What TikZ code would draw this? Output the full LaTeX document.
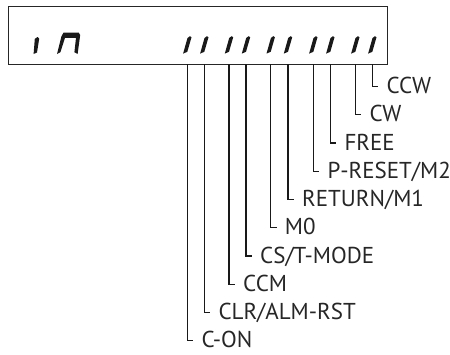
\documentclass[tikz,border=0pt]{standalone}
\usepackage{fontspec}
\setmainfont{PT Sans}
\begin{document}
\begin{tikzpicture}[x=1pt,y=-1pt,
  frame/.style={draw=black!85,line width=1.2pt},
  lead/.style={draw=black!90,line width=1.1pt},
  seg/.style={fill=black!90,draw=none},
  lbl/.style={anchor=base west,inner sep=0pt,text=black!85,font=\fontsize{23}{27}\selectfont}]
\useasboundingbox (0,0) rectangle (450,354);
% display frame
\node[frame,draw,minimum width=379pt,minimum height=58.5pt,inner sep=0pt,anchor=north west] (disp) at (8,5.5) {};
% "in"
\fill[seg] (33.6,54) -- (37.0,52.5) -- (39.2,38.6) -- (37.6,37.0) -- (34.8,38.8) -- cycle;
\fill[seg] (57.0,54) -- (61.4,36.4) -- (63.6,32.5) -- (78.6,32.5) -- (80.2,35) -- (77.6,54) -- (74.4,52.2) -- (76.0,37.8) -- (65.0,37.8) -- (60.4,52.2) -- cycle;
% segment pairs and leads
\foreach \x/\k/\t [count=\i] in {
  187.3/9/C-ON, 204.3/8/CLR{/}ALM-RST, 229/7/CCM, 246/6/CS{/}T-MODE,
  270.7/5/M0, 288/4/RETURN{/}M1, 313.3/3/P-RESET{/}M2, 330.3/2/FREE,
  355.3/1/CW, 372.3/0/CCW}{
  \pgfmathsetmacro{\yy}{86.5+28.25*\k}
  \pgfmathsetmacro{\xb}{\x-2.0}
  \pgfmathsetmacro{\xt}{\x+2.0}
  \fill[seg] (\xb-2.2,53.6) -- (\xb+2.0,51.8) -- (\xt+2.2,37.2) -- (\xt+0.6,36.2) -- (\xt-1.8,38.0) -- cycle;
  \coordinate (s\i) at (\x,64);
  \coordinate (t\i) at (\x+6,\yy);
  \node[lbl] (l\i) at (\x+14,\yy+7) {\t};
  \draw[lead] (s\i) |- (t\i);
}
\end{tikzpicture}
\end{document}
